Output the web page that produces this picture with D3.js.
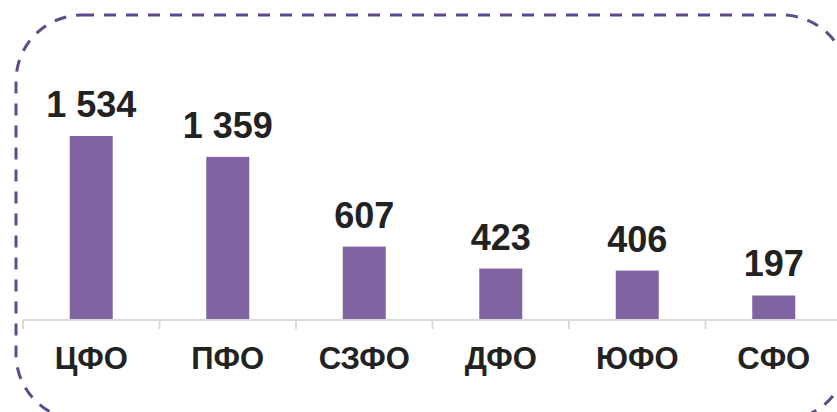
<!DOCTYPE html>
<html>
<head>
<meta charset="utf-8">
<script src="https://cdn.jsdelivr.net/npm/d3@7"></script>
<style>
  body { margin: 0; background: #fff; }
  svg { display: block; font-family: "Liberation Sans", Arial, sans-serif; }
</style>
</head>
<body>
<div id="chart"></div>
<script>
// data
var regions = ['ЦФО', 'ПФО', 'СЗФО', 'ДФО', 'ЮФО', 'СФО']
var values = [1534, 1359, 607, 423, 406, 197]
var valueLabels = ['1 534', '1 359', '607', '423', '406', '197']

var width = 837, height = 412
var barColor = '#8064A2'
var frameColor = '#5F4B8B'

var svg = d3.select('#chart')
  .append('svg')
  .attr('width', width)
  .attr('height', height)

// dashed rounded frame
svg.append('rect')
  .attr('x', 16)
  .attr('y', 15)
  .attr('width', 832)
  .attr('height', 405)
  .attr('rx', 66)
  .attr('ry', 66)
  .style('fill', 'none')
  .style('stroke', frameColor)
  .style('stroke-width', 3)
  .style('stroke-dasharray', '12,10')

var x = d3.scaleBand()
  .domain(regions)
  .range([23, 842])
  .padding(0)

var y = d3.scaleLinear()
  .domain([0, 1534])
  .range([319, 136])

var barW = x.bandwidth() * 0.315

// bars
svg.selectAll('rect.bar')
  .data(values)
  .enter()
  .append('rect')
  .attr('class', 'bar')
  .attr('x', function(d, i) { return x(regions[i]) + x.bandwidth() / 2 - barW / 2 })
  .attr('y', function(d) { return y(d) })
  .attr('width', barW)
  .attr('height', function(d) { return y(0) - y(d) })
  .style('fill', barColor)

// axis line + ticks between categories
svg.append('line')
  .attr('x1', x.range()[0]).attr('x2', x.range()[1])
  .attr('y1', 320).attr('y2', 320)
  .style('stroke', '#D9D9D9')
  .style('stroke-width', 2)

var tickXs = regions.map(function(r) { return x(r) }).concat([x.range()[1]])
svg.selectAll('line.tick')
  .data(tickXs)
  .enter()
  .append('line')
  .attr('class', 'tick')
  .attr('x1', function(d) { return d }).attr('x2', function(d) { return d })
  .attr('y1', 320).attr('y2', 329)
  .style('stroke', '#D9D9D9')
  .style('stroke-width', 2)

// value labels
svg.selectAll('text.val')
  .data(values)
  .enter()
  .append('text')
  .attr('class', 'val')
  .attr('x', function(d, i) { return x(regions[i]) + x.bandwidth() / 2 })
  .attr('y', function(d) { return y(d) - 19 })
  .attr('text-anchor', 'middle')
  .style('font-size', '36px')
  .style('font-weight', 'bold')
  .style('fill', '#222222')
  .text(function(d, i) { return valueLabels[i] })

// category labels
svg.selectAll('text.cat')
  .data(regions)
  .enter()
  .append('text')
  .attr('class', 'cat')
  .attr('x', function(d) { return x(d) + x.bandwidth() / 2 })
  .attr('y', 369)
  .attr('text-anchor', 'middle')
  .style('font-size', '31px')
  .style('font-weight', 'bold')
  .style('fill', '#222222')
  .text(function(d) { return d })
</script>
</body>
</html>
